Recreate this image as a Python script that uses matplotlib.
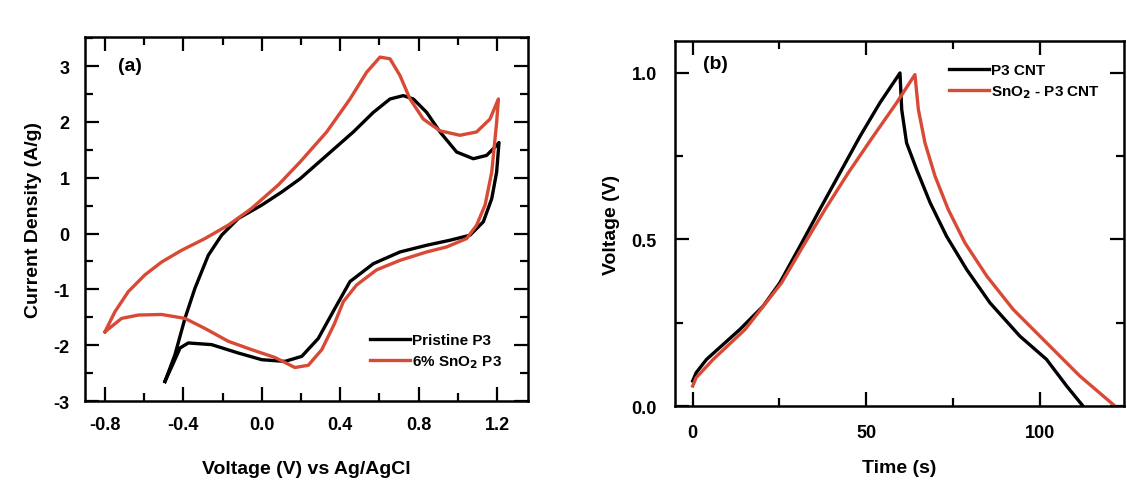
import matplotlib
matplotlib.use('Agg')
from matplotlib import pyplot as plt
from matplotlib.ticker import MultipleLocator

# panel (a): cyclic voltammetry, potential (V) / current density (A/g)
pristine_v = [-0.494, -0.443, -0.392, -0.341, -0.273, -0.205, -0.120, 0.0, 0.10, 0.195, 0.331, 0.467,
              0.569, 0.654, 0.722, 0.773, 0.841, 0.909, 0.994, 1.079, 1.147, 1.198, 1.21, 1.198,
              1.173, 1.13, 1.062, 0.96, 0.841, 0.705, 0.569, 0.45, 0.373, 0.288, 0.204, 0.118,
              0.0, -0.12, -0.256, -0.375, -0.417, -0.455, -0.494]
pristine_i = [-2.65, -2.17, -1.52, -0.98, -0.39, -0.03, 0.27, 0.51, 0.74, 0.98, 1.40, 1.82,
              2.17, 2.41, 2.47, 2.41, 2.17, 1.82, 1.46, 1.34, 1.40, 1.58, 1.63, 1.10,
              0.625, 0.21, -0.03, -0.12, -0.21, -0.33, -0.54, -0.86, -1.34, -1.88, -2.20, -2.29,
              -2.26, -2.14, -1.99, -1.96, -2.05, -2.35, -2.65]
sno2_v = [-0.8, -0.749, -0.681, -0.596, -0.511, -0.409, -0.29, -0.171, -0.052, 0.084, 0.195, 0.331,
          0.45, 0.535, 0.603, 0.654, 0.705, 0.756, 0.824, 0.909, 1.011, 1.096, 1.164, 1.207,
          1.198, 1.173, 1.139, 1.096, 1.045, 0.943, 0.841, 0.705, 0.586, 0.484, 0.416, 0.37,
          0.306, 0.237, 0.169, 0.067, -0.052, -0.171, -0.29, -0.392, -0.511, -0.630, -0.715, -0.8]
sno2_i = [-1.76, -1.40, -1.04, -0.74, -0.51, -0.30, -0.09, 0.15, 0.45, 0.87, 1.28, 1.82,
          2.41, 2.89, 3.16, 3.13, 2.83, 2.41, 2.05, 1.84, 1.76, 1.82, 2.05, 2.41,
          1.99, 1.10, 0.51, 0.15, -0.09, -0.24, -0.33, -0.48, -0.65, -0.92, -1.22, -1.62,
          -2.08, -2.36, -2.40, -2.22, -2.08, -1.93, -1.70, -1.52, -1.45, -1.46, -1.52, -1.76]

# panel (b): galvanostatic charge/discharge, time (s) / voltage (V)
p3_t = [0, 1.0, 4.0, 13.6, 20.3, 25.1, 30.9, 36.6, 42.4, 48.2, 53.9, 59.7,
        60.2, 61.6, 64.5, 68.4, 73.1, 78.9, 85.6, 94.2, 101.9, 107.7, 112.4]
p3_v = [0.075, 0.10, 0.14, 0.23, 0.30, 0.37, 0.48, 0.59, 0.70, 0.81, 0.91, 1.0,
        0.89, 0.79, 0.71, 0.61, 0.51, 0.41, 0.31, 0.21, 0.14, 0.06, 0.0]
sn_t = [0, 1.0, 5.9, 15.1, 25.6, 31.8, 38.1, 44.8, 52.0, 58.7, 64.0,
        65.0, 66.9, 69.8, 73.6, 78.4, 84.7, 92.3, 101.9, 111.5, 121.6]
sn_v = [0.06, 0.085, 0.14, 0.23, 0.37, 0.48, 0.59, 0.70, 0.81, 0.91, 0.995,
        0.89, 0.79, 0.69, 0.59, 0.49, 0.39, 0.29, 0.19, 0.09, 0.0]

RED = '#d84a36'
plt.rcParams['font.family'] = ['Liberation Sans', 'DejaVu Sans']
plt.rcParams['font.weight'] = 'bold'
plt.rcParams['axes.labelweight'] = 'bold'
plt.rcParams['axes.unicode_minus'] = False
plt.rcParams['mathtext.default'] = 'bf'

fig = plt.figure(figsize=(11.27, 4.85), dpi=100)
axA = fig.add_axes([0.0754, 0.1711, 0.3931, 0.7505])
axB = fig.add_axes([0.5989, 0.1608, 0.3984, 0.7526])


def style(ax, pad):
    for s in ax.spines.values():
        s.set_linewidth(1.8)
    ax.tick_params(which='both', direction='in', top=True, right=True, width=1.6, labelsize=13)
    ax.tick_params(which='major', length=10, pad=pad)
    ax.tick_params(which='minor', length=5.5)


axA.plot(pristine_v, pristine_i, color='black', lw=2.4, label='Pristine P3')
axA.plot(sno2_v, sno2_i, color=RED, lw=2.4, label='6% SnO$_2$ P3')
axA.set_xlim(-0.902, 1.358)
axA.set_ylim(-3.0, 3.52)
axA.set_xticks([-0.8, -0.4, 0.0, 0.4, 0.8, 1.2])
axA.xaxis.set_minor_locator(MultipleLocator(0.2))
axA.set_yticks([-3, -2, -1, 0, 1, 2, 3])
axA.yaxis.set_minor_locator(MultipleLocator(0.5))
axA.set_xlabel('Voltage (V) vs Ag/AgCl', fontsize=14, labelpad=19)
axA.set_ylabel('Current Density (A/g)', fontsize=14, labelpad=8)
axA.text(0.0745, 0.923, '(a)', transform=axA.transAxes, fontsize=14, fontweight='bold', va='center')
style(axA, 11)
axA.legend(loc='center left', bbox_to_anchor=(0.643, 0.135), frameon=False, fontsize=11,
           handlelength=2.6, handletextpad=0.15, labelspacing=0.4, borderpad=0, borderaxespad=0)

axB.plot(p3_t, p3_v, color='black', lw=2.4, label='P3 CNT')
axB.plot(sn_t, sn_v, color=RED, lw=2.4, label='SnO$_2$ - P3 CNT')
axB.set_xlim(-5.1, 124.2)
axB.set_ylim(0, 1.096)
axB.set_xticks([0, 50, 100])
axB.xaxis.set_minor_locator(MultipleLocator(25))
axB.set_yticks([0.0, 0.5, 1.0])
axB.yaxis.set_minor_locator(MultipleLocator(0.25))
axB.set_xlabel('Time (s)', fontsize=14, labelpad=13)
axB.set_ylabel('Voltage (V)', fontsize=14, labelpad=8)
axB.text(0.062, 0.937, '(b)', transform=axB.transAxes, fontsize=14, fontweight='bold', va='center')
style(axB, 13)
axB.legend(loc='center left', bbox_to_anchor=(0.610, 0.889), frameon=False, fontsize=11,
           handlelength=2.6, handletextpad=0.15, labelspacing=0.4, borderpad=0, borderaxespad=0)

fig.savefig('out.png', dpi=100)
